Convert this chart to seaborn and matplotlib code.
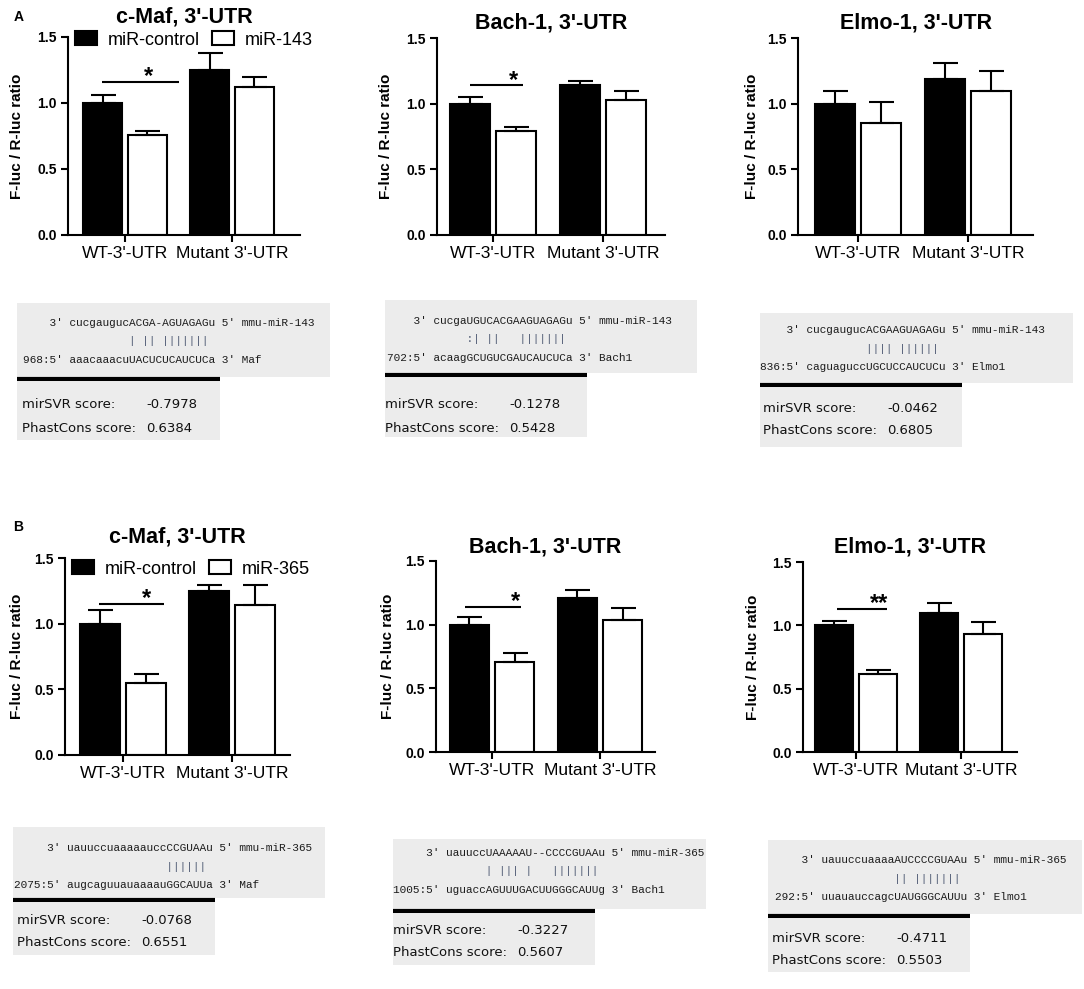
import matplotlib
matplotlib.use("Agg")
import matplotlib.pyplot as plt
from matplotlib.patches import Patch, Rectangle
import pandas as pd
import seaborn as sns

W, H = 1084, 989

titles = ["c-Maf, 3'-UTR", "Bach-1, 3'-UTR", "Elmo-1, 3'-UTR"]
constructs = ["WT-3'-UTR", "Mutant 3'-UTR"]
treat_a = ["miR-control", "miR-143"]
treat_b = ["miR-control", "miR-365"]

# F-luc / R-luc ratio, mean and SEM; per gene [WT, Mutant]
a_ctrl = [[1.00, 1.25], [1.00, 1.14], [1.00, 1.19]]
a_ctrl_err = [[0.06, 0.13], [0.05, 0.035], [0.10, 0.12]]
a_mir = [[0.76, 1.12], [0.79, 1.025], [0.855, 1.10]]
a_mir_err = [[0.025, 0.08], [0.03, 0.07], [0.155, 0.15]]

b_ctrl = [[1.00, 1.25], [1.00, 1.21], [1.00, 1.10]]
b_ctrl_err = [[0.105, 0.045], [0.06, 0.062], [0.035, 0.08]]
b_mir = [[0.55, 1.145], [0.71, 1.04], [0.615, 0.93]]
b_mir_err = [[0.065, 0.15], [0.068, 0.09], [0.03, 0.095]]

a_stars = ["*", "*", None]
b_stars = ["*", "*", "**"]

a_align = [
    ("    3' cucgaugucACGA-AGUAGAGu 5' mmu-miR-143",
     "                | || |||||||",
     "968:5' aaacaaacuUACUCUCAUCUCa 3' Maf"),
    ("    3' cucgaUGUCACGAAGUAGAGu 5' mmu-miR-143",
     "            :| ||   |||||||",
     "702:5' acaagGCUGUCGAUCAUCUCa 3' Bach1"),
    ("    3' cucgaugucACGAAGUAGAGu 5' mmu-miR-143",
     "                |||| ||||||",
     "836:5' caguaguccUGCUCCAUCUCu 3' Elmo1"),
]
b_align = [
    ("     3' uauuccuaaaaauccCCGUAAu 5' mmu-miR-365",
     "                       ||||||",
     "2075:5' augcaguuauaaaauGGCAUUa 3' Maf"),
    ("     3' uauuccUAAAAAU--CCCCGUAAu 5' mmu-miR-365",
     "              | ||| |   |||||||",
     "1005:5' uguaccAGUUUGACUUGGGCAUUg 3' Bach1"),
    ("    3' uauuccuaaaaAUCCCCGUAAu 5' mmu-miR-365",
     "                  || |||||||",
     "292:5' uuauauccagcUAUGGGCAUUu 3' Elmo1"),
]
a_mirsvr = ["-0.7978", "-0.1278", "-0.0462"]
a_phast = ["0.6384", "0.5428", "0.6805"]
b_mirsvr = ["-0.0768", "-0.3227", "-0.4711"]
b_phast = ["0.6551", "0.5607", "0.5503"]

# layout in pixels
# axes: left, top, right, bottom, tick0 x, tick1 x, title pad px, ylabel x
axes_px = [
    (68, 37, 300, 235, 125, 232, 14, 24),
    (437, 38, 665, 235, 493, 603, 10, 393),
    (798, 38, 1033, 235, 858, 968, 10, 759),
    (65, 558, 290, 755, 123, 232, 16, 24),
    (436, 561, 655, 752, 492, 600, 8, 395),
    (803, 562, 1017, 752, 856, 961, 9, 760),
]
# significance bar: y, x from, x to, star x (data units)
sig_pos = [
    (1.16, -0.215, 0.505, 0.215),
    (1.14, -0.209, 0.273, 0.19),
    None,
    (1.15, -0.22, 0.376, 0.22),
    (1.137, -0.25, 0.268, 0.213),
    (1.128, -0.18, 0.295, 0.22),
]
legend_pos = [(0.03, 0.985), None, None, (0.031, 0.944), None, None]
# alignment box: x0, x1, top, bottom, rule y, rule end, score bottom, text x, first line y, score x, score y
box_px = [
    (17, 330, 303, 377, 379, 220, 440, 23, 323, 22, 405),
    (385, 697, 300, 373, 375, 587, 437, 387, 321, 385, 405),
    (760, 1073, 313, 383, 385, 962, 447, 760, 330, 763, 408),
    (13, 325, 827, 898, 900, 215, 955, 14, 848, 17, 920),
    (393, 706, 839, 909, 911, 595, 965, 393, 853, 393, 930),
    (768, 1082, 840, 914, 916, 970, 972, 775, 860, 772, 938),
]

sns.set_style("ticks")
plt.rcParams["font.family"] = ["Liberation Sans", "DejaVu Sans"]
plt.rcParams["text.color"] = "black"
plt.rcParams["axes.labelcolor"] = "black"
plt.rcParams["axes.titlecolor"] = "black"

fig = plt.figure(figsize=(W / 100, H / 100), dpi=100)

ov = fig.add_axes([0, 0, 1, 1])
ov.set_xlim(0, W)
ov.set_ylim(H, 0)
ov.set_axis_off()

ctrl_all = a_ctrl + b_ctrl
ctrl_err_all = a_ctrl_err + b_ctrl_err
mir_all = a_mir + b_mir
mir_err_all = a_mir_err + b_mir_err
stars_all = a_stars + b_stars
align_all = a_align + b_align
svr_all = a_mirsvr + b_mirsvr
phast_all = a_phast + b_phast

for i in range(6):
    treats = treat_a if i < 3 else treat_b
    l, t, r, b, t0, t1, tpad, ylx = axes_px[i]
    ax = fig.add_axes([l / W, 1 - b / H, (r - l) / W, (b - t) / H])
    df = pd.DataFrame({
        "construct": constructs * 2,
        "treatment": [treats[0]] * 2 + [treats[1]] * 2,
        "ratio": ctrl_all[i] + mir_all[i],
    })
    sns.barplot(data=df, x="construct", y="ratio", hue="treatment",
                order=constructs, hue_order=treats, palette=["black", "white"],
                saturation=1, edgecolor="black", linewidth=1.5, width=0.84,
                gap=0.13, errorbar=None, legend=False, ax=ax, zorder=2)
    for cont, errs in zip(ax.containers, [ctrl_err_all[i], mir_err_all[i]]):
        xs = [p.get_x() + p.get_width() / 2 for p in cont]
        hs = [p.get_height() for p in cont]
        ax.errorbar(xs, hs, yerr=[[0] * len(errs), errs], fmt="none",
                    ecolor="black", elinewidth=1.5, capsize=9, capthick=1.5,
                    zorder=3)

    d = t1 - t0
    ax.set_xlim(-(t0 - l) / d, 1 + (r - t1) / d)
    ax.set_ylim(0, 1.5)
    ax.set_yticks([0, 0.5, 1.0, 1.5], ["0.0", "0.5", "1.0", "1.5"],
                  fontsize=10, fontweight="bold")
    ax.set_xticks([0, 1], constructs, fontsize=12.5)
    ax.set_xlabel("")
    ax.set_ylabel("F-luc / R-luc ratio", fontsize=11, fontweight="bold")
    ax.yaxis.set_label_coords((ylx - l) / (r - l), 0.5)
    ax.tick_params(axis="both", width=1.5, length=5, color="black",
                   labelcolor="black", pad=3)
    sns.despine(ax=ax)
    for s in ["left", "bottom"]:
        ax.spines[s].set_linewidth(1.5)
        ax.spines[s].set_color("black")
    ax.set_title(titles[i % 3], fontsize=15.5, fontweight="bold",
                 pad=tpad * 0.72, color="black")

    if sig_pos[i] is not None:
        sy, sx0, sx1, stx = sig_pos[i]
        ax.plot([sx0, sx1], [sy, sy], color="black", lw=1.5,
                solid_capstyle="butt")
        ax.text(stx, sy - 0.01, stars_all[i], ha="center", va="baseline",
                fontsize=17, fontweight="bold", color="black")

    if legend_pos[i] is not None:
        handles = [Patch(facecolor="black", edgecolor="black", lw=1.5),
                   Patch(facecolor="white", edgecolor="black", lw=1.5)]
        ax.legend(handles, treats, loc="center left",
                  bbox_to_anchor=legend_pos[i], ncol=2, frameon=False,
                  fontsize=13, handlelength=1.2, handleheight=0.8,
                  handletextpad=0.6, columnspacing=0.7, borderpad=0,
                  borderaxespad=0, labelcolor="black")

    # alignment and score boxes
    x0, x1, bt, bb, ry, rend, sb, tx, ly, sx, sy2 = box_px[i]
    ov.add_patch(Rectangle((x0, bt), x1 - x0, bb - bt, facecolor="#ececec",
                           edgecolor="none", zorder=1))
    for k, line in enumerate(align_all[i]):
        ov.text(tx, ly + k * 18.5, line, family="Liberation Mono", fontsize=8,
                color="#4a5670" if k == 1 else "#1c1c1c", ha="left",
                va="center", zorder=2)
    ov.plot([x0, rend], [ry, ry], color="black", lw=3,
            solid_capstyle="butt", zorder=3)
    ov.add_patch(Rectangle((x0, ry + 3), rend - x0, sb - ry - 3,
                           facecolor="#ececec", edgecolor="none", zorder=1))
    ov.text(sx, sy2, "mirSVR score:", family="DejaVu Sans", fontsize=9.5,
            color="#111111", va="center", zorder=2)
    ov.text(sx + 124, sy2, svr_all[i], family="DejaVu Sans", fontsize=9.5,
            color="#111111", va="center", zorder=2)
    ov.text(sx, sy2 + 23, "PhastCons score:", family="DejaVu Sans",
            fontsize=9.5, color="#111111", va="center", zorder=2)
    ov.text(sx + 124, sy2 + 23, phast_all[i], family="DejaVu Sans",
            fontsize=9.5, color="#111111", va="center", zorder=2)

ov.text(19, 17, "A", fontsize=10, fontweight="bold", ha="center", va="center")
ov.text(18, 527, "B", fontsize=10, fontweight="bold", ha="center", va="center")

fig.savefig("out.png", dpi=100)
